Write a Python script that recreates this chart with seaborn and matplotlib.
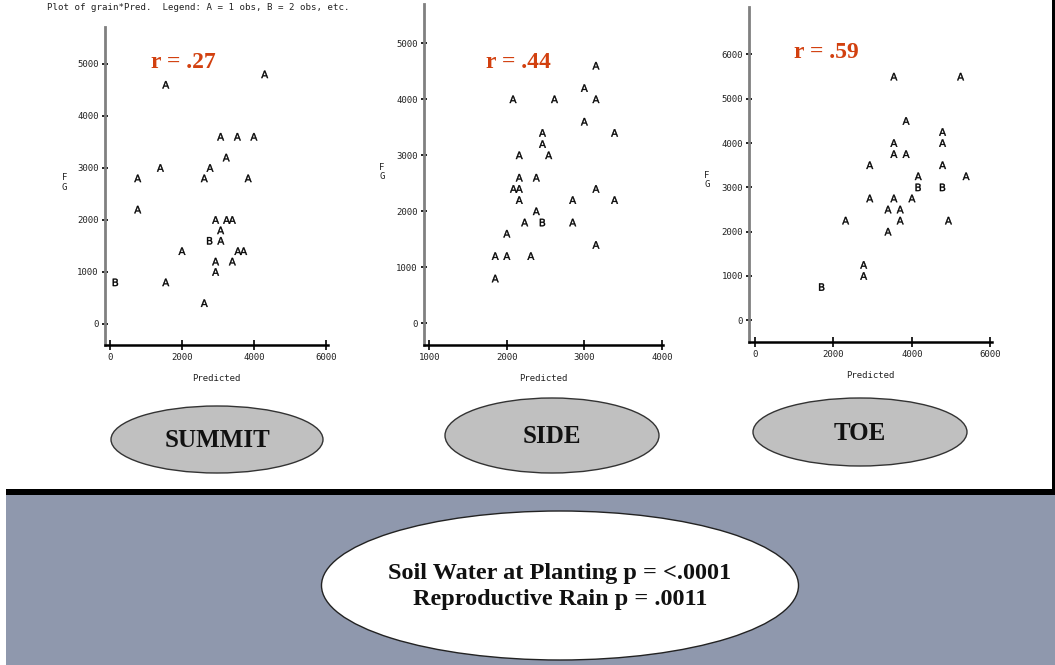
import matplotlib
matplotlib.use("Agg")
import matplotlib.pyplot as plt
from matplotlib.patches import Ellipse, Rectangle
import seaborn as sns
import pandas as pd

# ---------------- data ----------------
summit_pred = [4300, 1550, 3075, 3540, 4000, 3230, 1400, 2780, 770, 2620, 3840,
               770, 2935, 3240, 3400, 3075, 2770, 3080, 2000, 3555, 3715,
               2935, 3400, 2935, 150, 1550, 2620]
summit_grain = [4800, 4600, 3600, 3600, 3600, 3200, 3000, 3000, 2800, 2800, 2800,
                2200, 2000, 2000, 2000, 1800, 1600, 1600, 1400, 1400, 1400,
                1200, 1200, 1000, 800, 800, 400]
summit_obs = ["A", "A", "A", "A", "A", "A", "A", "A", "A", "A", "A",
              "A", "A", "A", "A", "A", "B", "A", "A", "A", "A",
              "A", "A", "A", "B", "A", "A"]

side_pred = [3150, 3000, 2080, 2615, 3150, 3000, 2460, 3390, 2460, 2160, 2540,
             2160, 2380, 2085, 2160, 3150, 2160, 2850, 3390, 2380, 2230, 2460,
             2850, 2000, 3150, 1850, 2000, 2310, 1850]
side_grain = [4600, 4200, 4000, 4000, 4000, 3600, 3400, 3400, 3200, 3000, 3000,
              2600, 2600, 2400, 2400, 2400, 2200, 2200, 2200, 2000, 1800, 1800,
              1800, 1600, 1400, 1200, 1200, 1200, 800]
side_obs = ["A", "A", "A", "A", "A", "A", "A", "A", "A", "A", "A",
            "A", "A", "A", "A", "A", "A", "A", "A", "A", "A", "B",
            "A", "A", "A", "A", "A", "A", "A"]

toe_pred = [3540, 5240, 3850, 4780, 3540, 4780, 3540, 3850, 2925, 4780, 4160,
            5380, 4160, 4780, 2925, 3540, 4000, 3390, 3700, 2310, 3700, 4930,
            3390, 2770, 2770, 1700]
toe_grain = [5500, 5500, 4500, 4250, 4000, 4000, 3750, 3750, 3500, 3500, 3250,
             3250, 3000, 3000, 2750, 2750, 2750, 2500, 2500, 2250, 2250, 2250,
             2000, 1250, 1000, 750]
toe_obs = ["A", "A", "A", "A", "A", "A", "A", "A", "A", "A", "A",
           "A", "B", "B", "A", "A", "A", "A", "A", "A", "A", "A",
           "A", "A", "A", "B"]

panel_names = ["SUMMIT", "SIDE", "TOE"]
r_labels = ["r = .27", "r = .44", "r = .59"]
xticks_list = [[0, 2000, 4000, 6000], [1000, 2000, 3000, 4000], [0, 2000, 4000, 6000]]
yticks_list = [[0, 1000, 2000, 3000, 4000, 5000], [0, 1000, 2000, 3000, 4000, 5000],
               [0, 1000, 2000, 3000, 4000, 5000, 6000]]
title_text = "Plot of grain*Pred.  Legend: A = 1 obs, B = 2 obs, etc."
stats_lines = ["Soil Water at Planting p = <.0001", "Reproductive Rain p = .0011"]

# ---------------- layout ----------------
W, H = 1055, 665
sns.set_theme(style="white")
plt.rcParams["font.family"] = ["DejaVu Sans"]
fig = plt.figure(figsize=(W / 100, H / 100), dpi=100)
fig.patch.set_facecolor("white")
MONO = "DejaVu Sans Mono"

def fx(px):
    return px / W

def fy(py):
    return 1 - py / H

# background: black band, gray lower area, right border line
fig.patches.append(Rectangle((fx(6), 0), fx(W - 6), fy(495), transform=fig.transFigure,
                             facecolor="#8f98ad", edgecolor="none", zorder=0))
fig.patches.append(Rectangle((fx(6), fy(495)), fx(W - 6), fy(489) - fy(495),
                             transform=fig.transFigure, facecolor="black",
                             edgecolor="none", zorder=0))
fig.patches.append(Rectangle((fx(1052), fy(489)), fx(3), 1 - fy(489),
                             transform=fig.transFigure, facecolor="black",
                             edgecolor="none", zorder=0))

# axes boxes: (left px, right px, top px, bottom px), xlim, ylim
boxes = [
    (105, 328, 27, 345, (-140, 6060), (-404, 5711)),
    (424, 663, 4, 345, (931, 4015), (-387, 5702)),
    (749.3, 992, 6.7, 342.3, (-145, 6040), (-497, 7079)),
]
ylab_pos = [(-0.181, 0.51), (-0.176, 0.507), (-0.175, 0.484)]
r_pos = [(183, 62), (518, 62), (826, 53)]
ell = [(217, 439.5, 212, 67), (552, 435.5, 214, 75), (860, 432, 214, 68)]

datasets = [
    (summit_pred, summit_grain, summit_obs),
    (side_pred, side_grain, side_obs),
    (toe_pred, toe_grain, toe_obs),
]

markers = {"A": r"$\mathsf{A}$", "B": r"$\mathsf{B}$"}

for i, (pred, grain, obs) in enumerate(datasets):
    l, r, t, b, xl, yl = boxes[i]
    ax = fig.add_axes([fx(l), fy(b), fx(r - l), fy(t) - fy(b)])
    ax.set_facecolor("none")
    df = pd.DataFrame({"Predicted": pred, "grain": grain, "obs": obs})
    sns.scatterplot(data=df, x="Predicted", y="grain", style="obs", markers=markers,
                    color="black", s=28, linewidth=0.3, edgecolor="black",
                    legend=False, ax=ax)
    ax.set_xlim(*xl)
    ax.set_ylim(*yl)
    ax.set_xticks(xticks_list[i])
    ax.set_yticks(yticks_list[i])
    for s in ["top", "right"]:
        ax.spines[s].set_visible(False)
    ax.spines["left"].set_color("#808080")
    ax.spines["left"].set_linewidth(2.0)
    ax.spines["bottom"].set_color("black")
    ax.spines["bottom"].set_linewidth(1.8)
    ax.tick_params(axis="y", direction="inout", length=5, width=1.2, color="black",
                   labelsize=6.5, labelcolor="#222222", pad=2, left=True)
    ax.tick_params(axis="x", direction="inout", length=7, width=1.2, color="black",
                   labelsize=6.5, labelcolor="#222222", pad=2, bottom=True)
    for lab in ax.get_xticklabels() + ax.get_yticklabels():
        lab.set_family(MONO)
    ax.set_xlabel("Predicted", fontsize=6.5, color="#222222", labelpad=9, family=MONO)
    ax.set_ylabel("F\nG", rotation=0, fontsize=6.5, color="#222222", family=MONO,
                  va="center", ha="center", linespacing=1.1)
    ax.yaxis.set_label_coords(*ylab_pos[i])
    ax.grid(False)

    # correlation label
    fig.text(fx(r_pos[i][0]), fy(r_pos[i][1]), r_labels[i], color="#d2400f",
             fontsize=17, fontweight="bold", family="Liberation Serif",
             ha="center", va="center")

    # landscape position ellipse
    cx, cy, ew, eh = ell[i]
    fig.patches.append(Ellipse((fx(cx), fy(cy)), fx(ew), eh / H,
                               transform=fig.transFigure, facecolor="#c0c0c0",
                               edgecolor="#333333", linewidth=1.0, zorder=1))
    fig.text(fx(cx), fy(cy + 1), panel_names[i], fontsize=18, fontweight="bold",
             family="Liberation Serif", color="#111111", ha="center", va="center",
             zorder=2)

# bottom ellipse with stats
fig.patches.append(Ellipse((fx(560), fy(585.5)), fx(477), 149 / H,
                           transform=fig.transFigure, facecolor="white",
                           edgecolor="#222222", linewidth=1.0, zorder=1))
fig.text(fx(560), fy(574), stats_lines[0], fontsize=17.5, fontweight="bold",
         family="Liberation Serif", color="#111111", ha="center", va="center", zorder=2)
fig.text(fx(560), fy(600), stats_lines[1], fontsize=17.5, fontweight="bold",
         family="Liberation Serif", color="#111111", ha="center", va="center", zorder=2)

# title
fig.text(fx(47), fy(8), title_text, fontsize=6.6, color="#222222",
         ha="left", va="center", family=MONO)

fig.savefig("out.png", dpi=100, facecolor="white")
